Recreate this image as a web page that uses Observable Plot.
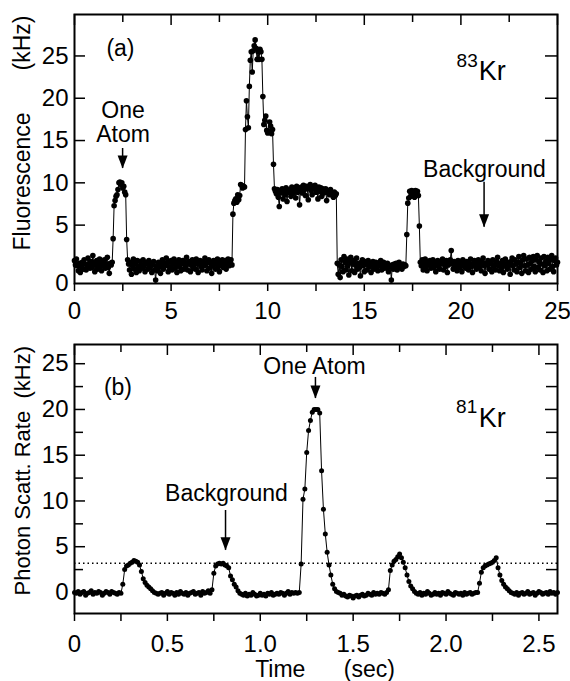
<!DOCTYPE html>
<html><head><meta charset="utf-8">
<script src="https://cdn.jsdelivr.net/npm/d3@7"></script>
<script src="https://cdn.jsdelivr.net/npm/@observablehq/plot@0.6"></script>
<style>
html,body{margin:0;padding:0;background:#fff;}
#chart svg{display:block;}
</style></head><body><div id="chart"></div>
<script>
// ---------- Panel (a): 83Kr fluorescence, sampled every 0.05 s ----------
const topStep = 0.05;
const topValues = [
// 0.00-1.95 background
0.8,0.3,1.0,0.2,-0.4,0.5,-0.6,0.1,0.6,-0.2,0.9,0.4,-0.3,0.2,1.1,0.3,-0.1,0.7,0.0,1.4,0.5,-0.5,0.3,0.8,-0.2,0.6,1.0,0.1,-0.4,0.7,0.2,0.9,-0.1,0.4,1.2,0.0,-0.7,0.5,0.3,0.6,
// 2.00-2.70 one atom
3.4,7.3,7.9,8.4,8.6,9.2,10.0,10.1,9.8,10.0,9.4,9.6,8.9,8.6,3.3,
// 2.75-8.15 background
0.9,0.4,-0.3,0.6,-0.8,0.2,1.0,-0.2,0.5,-0.6,0.8,0.1,-0.4,0.7,0.3,-0.1,0.9,0.2,-0.5,0.6,
0.4,-0.2,0.8,0.0,0.5,-0.6,0.3,0.7,-0.3,-1.5,0.2,-0.4,0.6,0.1,-0.7,0.4,0.9,-0.2,0.3,0.5,
1.1,0.2,-0.5,0.7,0.0,0.8,-0.3,0.4,1.0,-0.1,0.6,-0.6,0.3,0.9,0.1,-0.4,0.5,0.8,-0.2,0.6,
0.2,1.2,-0.3,0.4,0.7,-0.5,0.3,0.9,0.0,0.6,-0.2,1.0,0.4,-0.6,0.5,0.8,0.1,-0.3,0.7,0.2,
1.1,0.3,-0.4,0.6,0.9,-0.1,0.5,-0.7,0.2,0.8,0.4,-0.2,0.7,1.0,0.1,-0.5,0.6,0.3,0.9,0.0,
0.5,0.8,-0.2,0.4,1.0,0.2,0.6,0.9,0.3,
// 8.20-10.35 several atoms
6.3,7.6,7.9,8.1,7.7,8.6,8.0,8.5,9.8,9.7,9.4,9.6,9.5,16.3,19.7,17.8,16.5,21.4,24.5,25.5,
23.1,25.6,26.2,26.9,25.9,24.6,25.5,24.6,25.8,25.5,24.6,20.2,16.9,17.4,17.9,16.2,15.9,16.1,17.2,16.7,
15.8,16.3,12.2,9.3,
// 10.40-13.55 plateau
9.0,8.7,9.2,8.3,7.2,9.1,8.8,9.3,8.1,9.0,8.6,9.4,7.8,9.1,8.9,9.2,8.4,9.5,8.7,9.0,
9.3,8.2,9.6,8.9,9.4,7.4,9.1,9.5,8.8,9.7,9.2,8.5,9.6,9.3,8.0,9.4,9.8,9.1,8.6,9.5,
9.3,9.7,8.9,9.2,8.1,9.5,9.0,9.4,8.4,9.3,8.8,9.1,9.3,7.9,8.9,9.0,8.6,9.2,8.7,8.8,
8.3,8.9,8.5,8.7,
// 13.60-17.15 background
0.5,-0.8,0.3,-1.2,0.9,0.1,-0.5,1.3,0.6,-0.3,1.0,0.2,-0.9,0.7,1.2,-0.4,0.4,0.8,-0.6,0.3,
1.1,-0.2,0.5,0.0,-1.0,0.6,0.9,0.2,-0.5,0.7,0.4,-0.3,0.8,0.1,0.5,-0.6,0.3,0.7,-0.2,0.4,
0.6,0.0,-0.4,0.5,0.2,0.8,-0.3,0.3,0.6,-0.1,0.4,0.0,0.5,-0.5,0.2,0.1,-1.5,0.3,-0.2,0.4,
0.1,0.5,-0.3,0.2,0.6,0.0,0.3,-0.2,0.4,0.1,0.3,0.2,
// 17.20-17.85 one atom
3.9,7.6,8.2,9.0,8.4,9.1,8.6,9.0,8.3,9.1,8.8,9.0,8.5,4.9,
// 17.90-25.00 background
0.6,0.2,0.9,-0.3,0.5,1.0,0.1,-0.4,0.7,0.3,0.8,-0.1,0.4,0.9,0.0,0.6,-0.5,0.3,0.8,0.2,
-0.2,0.7,0.4,1.0,-0.3,0.5,0.1,0.8,-0.6,0.3,0.6,0.9,2.0,0.4,-0.2,0.7,0.1,0.5,-0.4,0.8,
0.3,0.0,0.6,-0.5,0.9,0.2,0.4,-0.1,0.7,0.3,-0.3,0.5,1.0,0.1,-0.6,0.4,0.8,0.2,-0.2,0.6,
0.9,0.0,0.3,-0.4,0.7,1.1,0.2,-0.7,0.5,0.3,0.8,-0.2,0.4,0.6,-0.5,0.9,0.1,0.3,-0.3,0.7,
1.2,0.2,-0.4,0.5,0.0,0.8,-0.6,0.4,1.0,0.1,-0.2,0.6,0.3,-0.8,0.7,1.1,0.2,-0.3,0.9,0.4,
-0.5,0.6,1.3,0.0,0.5,-0.7,0.9,1.4,0.2,-0.4,1.0,0.3,-0.6,1.2,0.5,-0.2,0.8,1.3,0.1,-0.5,
0.9,1.4,0.0,0.6,-0.3,1.1,0.4,-0.6,1.3,0.2,0.7,-0.4,1.2,0.5,-0.2,0.9,1.4,0.1,-0.5,0.8,
1.1,0.3,0.6
];

// ---------- Panel (b): 81Kr photon scattering rate, sampled every 0.01 s ----------
const botStep = 0.01;
const botValues = [
// 0.00-0.25
0.0,-0.1,0.1,-0.2,0.0,0.1,-0.3,-0.1,0.0,0.2,-0.2,0.0,-0.1,0.1,0.0,-0.3,-0.1,0.1,0.0,-0.2,0.1,0.0,-0.1,-0.2,0.0,-0.1,
// 0.26-0.44
0.9,2.5,2.9,3.0,3.2,3.3,3.5,3.4,3.3,3.0,2.3,1.5,1.1,0.8,0.6,0.4,0.2,0.0,-0.1,
// 0.45-0.73
-0.2,-0.1,0.0,-0.3,-0.1,0.1,-0.2,0.0,-0.1,-0.3,0.0,-0.2,0.1,-0.1,-0.2,0.0,-0.3,-0.1,0.0,0.1,-0.2,-0.1,0.0,-0.3,0.1,-0.1,0.0,0.2,-0.1,
// 0.74-0.89 background
0.3,2.1,2.9,3.1,3.2,3.1,3.2,3.0,2.9,2.7,1.8,1.4,0.9,0.6,0.2,-0.1,
// 0.90-1.21
-0.2,-0.3,-0.1,-0.4,-0.2,-0.3,0.0,-0.2,-0.4,-0.3,-0.1,-0.3,-0.2,-0.4,-0.1,-0.2,0.0,-0.3,-0.2,-0.1,
-0.2,0.0,-0.1,-0.3,-0.1,0.1,-0.2,0.0,-0.1,0.0,-0.1,0.0,
// 1.22-1.42 one atom
3.1,10.2,11.3,15.3,17.7,18.8,19.7,20.0,20.0,20.0,19.6,13.3,9.1,6.4,4.4,3.0,1.9,0.9,0.4,0.1,0.0,
// 1.43-1.68
-0.1,-0.3,-0.2,-0.4,-0.5,-0.3,-0.4,-0.6,-0.4,-0.3,-0.5,-0.3,-0.2,-0.4,-0.3,-0.1,-0.2,-0.3,0.0,-0.2,-0.1,-0.2,0.0,-0.1,-0.2,0.0,
// 1.69-1.83
0.3,2.4,3.0,3.4,3.6,3.9,4.2,3.8,3.3,2.7,1.9,1.2,0.7,0.4,0.1,
// 1.84-2.16
-0.1,-0.2,0.0,-0.3,-0.1,-0.2,0.1,-0.1,-0.3,-0.2,0.0,-0.2,-0.1,-0.3,0.0,-0.1,-0.2,0.1,-0.1,-0.2,
-0.3,0.0,-0.1,-0.2,-0.1,-0.3,0.0,-0.2,-0.1,0.0,-0.2,-0.1,0.0,
// 2.17-2.35
0.0,1.0,2.2,2.7,2.9,3.0,3.1,3.2,3.3,3.5,3.8,2.7,1.9,1.3,0.9,0.6,0.4,0.2,0.0,
// 2.36-2.60
-0.1,-0.2,0.0,-0.3,-0.1,0.0,-0.2,-0.1,0.1,-0.2,-0.1,0.0,-0.3,-0.1,0.1,0.0,-0.2,-0.1,0.0,-0.2,0.1,-0.1,0.0,-0.2,0.0
];
const botThreshold = 3.2;

// ---------- Ticks ----------
const topXTicks = [0,2.5,5,7.5,10,12.5,15,17.5,20,22.5,25];
const topXLabelled = [0,5,10,15,20,25];
const topYTicks = [5,10,15,20,25];
const topYBottom = -1.9;
const botXTicks = [0,0.25,0.5,0.75,1.0,1.25,1.5,1.75,2.0,2.25,2.5];
const botXLabelled = [0,0.5,1.0,1.5,2.0,2.5];
const botYTicks = [0,2.5,5,7.5,10,12.5,15,17.5,20,22.5,25];
const botYLabelled = [0,5,10,15,20,25];

// ---------- Data tables ----------
const topData = topValues.map((v, i) => ({t: +(i * topStep).toFixed(2), v}));
const botData = botValues.map((v, i) => ({t: +(i * botStep).toFixed(2), v}));

const FONT = "'Liberation Sans', Arial, Helvetica, sans-serif";
const W = 570, ML = 74, MR = 13, MT = 14, PH = 269;
const PW = W - ML - MR;
const head = {draw(ctx) { ctx.moveTo(0, 0); ctx.lineTo(-5, -13); ctx.lineTo(5, -13); ctx.closePath(); }};

function frameTicks(xMajor, xMinor, yMajor, yMinor) {
  const m = [];
  m.push(Plot.ruleX(xMajor, {x: d => d, insetBottom: PH - 11, strokeWidth: 1.5}));
  if (xMinor.length) m.push(Plot.ruleX(xMinor, {x: d => d, insetBottom: PH - 8, strokeWidth: 1.5}));
  m.push(Plot.ruleY(yMajor, {y: d => d, insetRight: PW - 11, strokeWidth: 1.5}));
  m.push(Plot.ruleY(yMajor, {y: d => d, insetLeft: PW - 12, strokeWidth: 1.5}));
  if (yMinor.length) {
    m.push(Plot.ruleY(yMinor, {y: d => d, insetRight: PW - 9, strokeWidth: 1.5}));
    m.push(Plot.ruleY(yMinor, {y: d => d, insetLeft: PW - 11, strokeWidth: 1.5}));
  }
  return m;
}

// ---------- Panel (a) ----------
const topPlot = Plot.plot({
  width: W, height: 330,
  marginLeft: ML, marginRight: MR, marginTop: MT, marginBottom: 330 - MT - PH,
  x: {domain: [0, 25], label: null},
  y: {domain: [topYBottom, 29.9], label: null},
  style: {fontFamily: FONT, fontSize: "24px", color: "black", background: "white", overflow: "visible"},
  marks: [
    Plot.axisX({ticks: topXTicks, tickFormat: d => topXLabelled.includes(d) ? String(d) : "", tickSize: 8, tickPadding: 10, strokeWidth: 1.5, label: null}),
    Plot.axisY({ticks: [topYBottom, ...topYTicks], tickFormat: d => d < 0 ? "0" : String(d), tickSize: 0, tickPadding: 6, label: null}),
    ...frameTicks(topXLabelled, topXTicks.filter(d => !topXLabelled.includes(d)), topYTicks, []),
    Plot.frame({stroke: "black", strokeWidth: 2}),
    Plot.line(topData, {x: "t", y: "v", stroke: "black", strokeWidth: 1}),
    Plot.dot(topData, {x: "t", y: "v", r: 2.8, fill: "black"}),
    // annotations
    Plot.text([{x: 2.38, y: 25.05, s: "(a)"}, {x: 2.51, y: 14.8, s: "One\nAtom"}, {x: 21.22, y: 10.67, s: "Background"}],
      {x: "x", y: "y", text: "s", textAnchor: "middle", lineAnchor: "bottom", lineHeight: 1.05, fontSize: 23}),
    Plot.ruleX([{x: 2.49, a: 14.06, b: 11.7}, {x: 21.2, a: 10.08, b: 4.76}], {x: "x", y1: "a", y2: "b", strokeWidth: 1.5}),
    Plot.dot([{x: 2.49, y: 11.7}, {x: 21.2, y: 4.76}], {x: "x", y: "y", symbol: head, fill: "black", stroke: "none"}),
    Plot.text([{x: 20.87, y: 23.67, s: "83"}], {x: "x", y: "y", text: "s", textAnchor: "end", lineAnchor: "bottom", fontSize: 19}),
    Plot.text([{x: 20.92, y: 22.1, s: "Kr"}], {x: "x", y: "y", text: "s", textAnchor: "start", lineAnchor: "bottom", fontSize: 27}),
    // y label
    Plot.text([{x: -2.69, y: 2.0, s: "Fluorescence"}], {x: "x", y: "y", text: "s", rotate: -90, textAnchor: "start", lineAnchor: "middle", fontSize: 23}),
    Plot.text([{x: -2.69, y: 29.78, s: "(kHz)"}], {x: "x", y: "y", text: "s", rotate: -90, textAnchor: "end", lineAnchor: "middle", fontSize: 23, style: "letter-spacing:1.5px"})
  ]
});

// ---------- Panel (b) ----------
const botPlot = Plot.plot({
  width: W, height: 351,
  marginLeft: ML, marginRight: MR, marginTop: MT, marginBottom: 351 - MT - PH,
  x: {domain: [0, 2.6], label: null},
  y: {domain: [-2.3, 27.1], label: null},
  style: {fontFamily: FONT, fontSize: "24px", color: "black", background: "white", overflow: "visible"},
  marks: [
    Plot.axisX({ticks: botXTicks, tickFormat: d => botXLabelled.includes(d) ? (d === 0 ? "0" : d.toFixed(1)) : "", tickSize: 8, tickPadding: 13, strokeWidth: 1.5, label: null}),
    Plot.axisY({ticks: botYLabelled, tickFormat: d => String(d), tickSize: 0, tickPadding: 6, label: null}),
    ...frameTicks(botXLabelled, botXTicks.filter(d => !botXLabelled.includes(d)), botYLabelled, botYTicks.filter(d => !botYLabelled.includes(d))),
    Plot.frame({stroke: "black", strokeWidth: 2}),
    Plot.ruleY([botThreshold], {stroke: "black", strokeWidth: 1.5, strokeDasharray: "1.5,3"}),
    Plot.line(botData, {x: "t", y: "v", stroke: "black", strokeWidth: 1}),
    Plot.dot(botData, {x: "t", y: "v", r: 2.5, fill: "black"}),
    Plot.text([{x: 0.234, y: 21.6, s: "(b)"}, {x: 1.292, y: 23.9, s: "One Atom"}, {x: 0.818, y: 10.05, s: "Background"}],
      {x: "x", y: "y", text: "s", textAnchor: "middle", lineAnchor: "bottom", fontSize: 23}),
    Plot.ruleX([{x: 1.297, a: 23.5, b: 21.2}, {x: 0.813, a: 8.96, b: 4.6}], {x: "x", y1: "a", y2: "b", strokeWidth: 1.5}),
    Plot.dot([{x: 1.297, y: 21.2}, {x: 0.813, y: 4.6}], {x: "x", y: "y", symbol: head, fill: "black", stroke: "none"}),
    Plot.text([{x: 2.168, y: 19.6, s: "81"}], {x: "x", y: "y", text: "s", textAnchor: "end", lineAnchor: "bottom", fontSize: 19}),
    Plot.text([{x: 2.176, y: 18.1, s: "Kr"}], {x: "x", y: "y", text: "s", textAnchor: "start", lineAnchor: "bottom", fontSize: 27}),
    // x label
    Plot.text([{x: 1.243, y: -9.19, s: "Time"}], {x: "x", y: "y", text: "s", textAnchor: "end", lineAnchor: "bottom", fontSize: 23}),
    Plot.text([{x: 1.45, y: -9.19, s: "(sec)"}], {x: "x", y: "y", text: "s", textAnchor: "start", lineAnchor: "bottom", fontSize: 23, style: "letter-spacing:1.5px"}),
    // y label
    Plot.text([{x: -0.28, y: -0.33, s: "Photon Scatt. Rate\u00a0\u00a0(kHz)"}], {x: "x", y: "y", text: "s", rotate: -90, textAnchor: "start", lineAnchor: "middle", fontSize: 22})
  ]
});

document.getElementById("chart").append(topPlot, botPlot);
</script>
</body></html>
